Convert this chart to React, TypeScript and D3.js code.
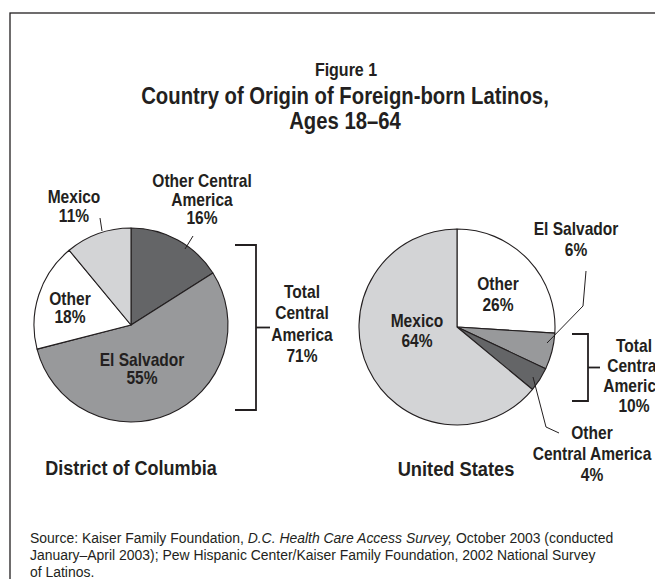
import React from "react";
import * as d3 from "d3";

// ---- Data ----
const dcCategories = ["Other Central America", "El Salvador", "Other", "Mexico"];
const dcValues = [16, 55, 18, 11];
const usCategories = ["Other", "El Salvador", "Other Central America", "Mexico"];
const usValues = [26, 6, 4, 64];
const dcTotalCentralAmerica = 71;
const usTotalCentralAmerica = 10;

const colorByCategory: Record<string, string> = {
  "Other Central America": "#646567",
  "El Salvador": "#98999b",
  Other: "#ffffff",
  Mexico: "#d3d4d6",
};

const FONT = "'Liberation Sans Narrow', 'Arial Narrow', 'Liberation Sans', Arial, sans-serif";
const INK = "#231f20";

type Lbl = { lines: string[]; x: number; y: number; size?: number; lh?: number; sx?: number; weight?: number };

function MultiText({ lines, x, y, size = 18, lh = 18.5, sx = 0.865, weight = 700 }: Lbl) {
  return (
    <g transform={`translate(${x},${y}) scale(${sx},1)`}>
      <text x={0} y={0} textAnchor="middle" fontFamily={FONT} fontWeight={weight} fontSize={size} fill={INK}>
        {lines.map((l, i) => (
          <tspan key={i} x={0} dy={i === 0 ? 0 : lh}>
            {l}
          </tspan>
        ))}
      </text>
    </g>
  );
}

function Pie({ cx, cy, r, cats, vals }: { cx: number; cy: number; r: number; cats: string[]; vals: number[] }) {
  const data = cats.map((c, i) => ({ c, v: vals[i] }));
  const arcs = d3.pie<{ c: string; v: number }>().sort(null).value((d) => d.v)(data);
  const arc = d3.arc<d3.PieArcDatum<{ c: string; v: number }>>().innerRadius(0).outerRadius(r);
  return (
    <g transform={`translate(${cx},${cy})`}>
      {arcs.map((a, i) => (
        <path key={i} d={arc(a) || ""} fill={colorByCategory[a.data.c]} stroke={INK} strokeWidth={1.1} strokeLinejoin="round" />
      ))}
    </g>
  );
}

function Bracket({ x, y0, y1, left, right }: { x: number; y0: number; y1: number; left: number; right: number }) {
  const ym = (y0 + y1) / 2;
  return (
    <g fill="none" stroke={INK} strokeWidth={1.8}>
      <path d={`M${x - left},${y0}H${x}V${y1}H${x - left}`} />
      <path d={`M${x},${ym}H${x + right}`} />
    </g>
  );
}

export default function App() {
  return (
    <svg
      width={655}
      height={579}
      viewBox="0 0 655 579"
      style={{ position: "absolute", left: 0, top: 0, display: "block", background: "#fff" }}
    >
      <rect x={10} y={13} width={700} height={700} fill="#fff" stroke={INK} strokeWidth={1.3} />

      <MultiText lines={["Figure 1"]} x={346} y={76} size={18} sx={0.89} />
      <MultiText lines={["Country of Origin of Foreign-born Latinos,", "Ages 18–64"]} x={345} y={104} size={24} lh={25} sx={0.845} />

      {/* DC pie */}
      <Pie cx={131} cy={325} r={97} cats={dcCategories} vals={dcValues} />
      <g stroke={INK} strokeWidth={1}>
        <line x1={100} y1={218} x2={102} y2={231} />
        <line x1={193} y1={236} x2={185} y2={249} />
      </g>
      <MultiText lines={["Mexico", `${dcValues[3]}%`]} x={74} y={203} lh={19.5} />
      <MultiText lines={["Other Central", "America", `${dcValues[0]}%`]} x={202} y={187} lh={18.7} />
      <MultiText lines={["Other", `${dcValues[2]}%`]} x={70} y={305} />
      <MultiText lines={["El Salvador", `${dcValues[1]}%`]} x={142} y={366} />
      <Bracket x={256} y0={245} y1={410} left={21} right={14} />
      <MultiText lines={["Total", "Central", "America", `${dcTotalCentralAmerica}%`]} x={302} y={298} lh={21.5} />
      <MultiText lines={["District of Columbia"]} x={131} y={475} size={21} sx={0.86} />

      {/* US pie */}
      <Pie cx={457} cy={327} r={98} cats={usCategories} vals={usValues} />
      <g stroke={INK} strokeWidth={1} fill="none">
        <polyline points="586,271 583,306 547,343" />
        <polyline points="533,377 546,427 559,433" />
      </g>
      <MultiText lines={["Other", `${usValues[0]}%`]} x={498} y={290} lh={21} />
      <MultiText lines={["Mexico", `${usValues[3]}%`]} x={417} y={327} lh={20} />
      <MultiText lines={["El Salvador", `${usValues[1]}%`]} x={576} y={235} lh={21} />
      <Bracket x={588} y0={334} y1={401} left={16} right={12} />
      <MultiText lines={["Total", "Central", "America", `${usTotalCentralAmerica}%`]} x={634} y={352} lh={20} />
      <MultiText lines={["Other", "Central America", `${usValues[2]}%`]} x={592} y={439} lh={21} />
      <MultiText lines={["United States"]} x={456} y={476} size={21} sx={0.87} />

      {/* Source */}
      <g transform="translate(30,543) scale(0.93,1)">
        <text x={0} y={0} fontFamily={FONT} fontSize={15} fill={INK}>
          <tspan>Source: Kaiser Family Foundation, </tspan>
          <tspan fontStyle="italic">D.C. Health Care Access Survey,</tspan>
          <tspan> October 2003 (conducted</tspan>
          <tspan x={0} dy={17}>January–April 2003); Pew Hispanic Center/Kaiser Family Foundation, 2002 National Survey</tspan>
          <tspan x={0} dy={17}>of Latinos.</tspan>
        </text>
      </g>
    </svg>
  );
}
